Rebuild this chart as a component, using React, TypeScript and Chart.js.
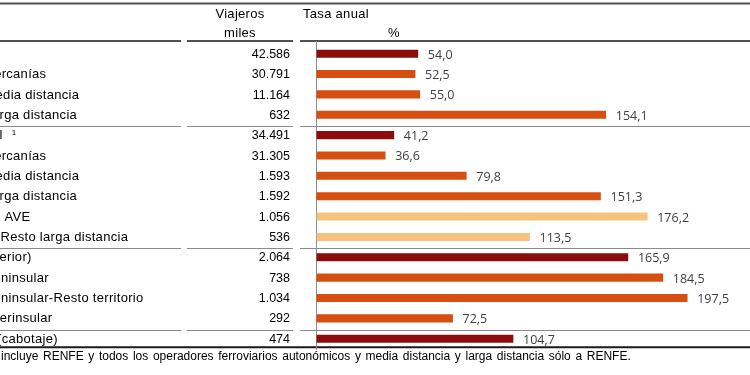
import React, { useEffect, useRef } from "react";
import { Chart, registerables } from "chart.js";

Chart.register(...registerables);

const rowLabels = [
  "Autobús",
  "Cercanías",
  "Media distancia",
  "Larga distancia",
  "Ferrocarril",
  "Cercanías",
  "Media distancia",
  "Larga distancia",
  " AVE",
  "Resto larga distancia",
  "Aéreo (interior)",
  "Peninsular",
  "Peninsular-Resto territorio",
  "Interinsular",
  "Marítimo (cabotaje)",
];
const rowNotes = ["", "", "", "", "1", "", "", "", "", "", "", "", "", "", ""];
const rowLevels = [0, 1, 1, 1, 0, 1, 1, 1, 2, 2, 0, 1, 1, 1, 0];
const travellers = [42586, 30791, 11164, 632, 34491, 31305, 1593, 1592, 1056, 536, 2064, 738, 1034, 292, 474];
const annualRate = [54.0, 52.5, 55.0, 154.1, 41.2, 36.6, 79.8, 151.3, 176.2, 113.5, 165.9, 184.5, 197.5, 72.5, 104.7];
const groupEnds = [3, 9, 13];
const headerTravellers = ["Viajeros", "miles"];
const headerRate = ["Tasa anual", "%"];
const footnote =
  "incluye RENFE y todos los operadores ferroviarios autonómicos y media distancia y larga distancia sólo a RENFE.";

const levelColors = ["#8C0C0C", "#D64F10", "#F6C37F"];

const fmtThousands = (n: number) => String(n).replace(/\B(?=(\d{3})+(?!\d))/g, ".");
const fmtRate = (n: number) => n.toFixed(1).replace(".", ",");

const ARIAL = '"Liberation Sans", Arial, sans-serif';
const LABEL_FONT = `13px ${ARIAL}`;
const LABEL_SPACING = "0.3px";

const segments: [number, number][] = [
  [0, 181],
  [187, 293],
  [300, 750],
];

function hline(ctx: CanvasRenderingContext2D, y: number, x0: number, x1: number, w: number, c: string) {
  ctx.beginPath();
  ctx.strokeStyle = c;
  ctx.lineWidth = w;
  ctx.moveTo(x0, y);
  ctx.lineTo(x1, y);
  ctx.stroke();
}

const tablePlugin = {
  id: "tableFrame",
  beforeDatasetsDraw(chart: any) {
    const ctx: CanvasRenderingContext2D = chart.ctx;
    const ys = chart.scales.y;
    const xs = chart.scales.x;
    ctx.save();
    hline(ctx, 3.5, 0, 750, 2, "#505050");
    segments.forEach(([a, b]) => hline(ctx, 41, a, b, 2, "#505050"));
    const step = ys.getPixelForValue(1) - ys.getPixelForValue(0);
    groupEnds.forEach((g) => {
      const yy = Math.round(ys.getPixelForValue(g) + step / 2 + 1) + 0.5;
      segments.forEach(([a, b]) => hline(ctx, yy, a, b, 1, "#8a8a8a"));
    });
    hline(ctx, 347.3, 0, 750, 2, "#1a1a1a");
    const x0 = xs.getPixelForValue(0);
    ctx.beginPath();
    ctx.strokeStyle = "#8c8c8c";
    ctx.lineWidth = 1;
    ctx.moveTo(x0, 41);
    ctx.lineTo(x0, 350);
    ctx.stroke();
    ctx.restore();
  },
  afterDatasetsDraw(chart: any) {
    const ctx: any = chart.ctx;
    const ys = chart.scales.y;
    const meta = chart.getDatasetMeta(0);
    ctx.save();
    ctx.fillStyle = "#000";
    ctx.font = LABEL_FONT;
    ctx.letterSpacing = LABEL_SPACING;
    ctx.textBaseline = "alphabetic";
    const levelIndent = [
      -0.5 - ctx.measureText("Ferrocarri").width,
      -0.5 - ctx.measureText("La").width,
      0.5,
    ];
    ctx.textAlign = "center";
    ctx.fillText(headerTravellers[0], 240, 17.5);
    ctx.fillText(headerTravellers[1], 240, 37.3);
    ctx.textAlign = "left";
    ctx.fillText(headerRate[0], 303, 17.5);
    ctx.textAlign = "center";
    ctx.fillText(headerRate[1], 394, 37.3);
    rowLabels.forEach((lab, i) => {
      const cy = ys.getPixelForValue(i) - 0.5;
      const base = cy + 4.6;
      ctx.font = LABEL_FONT;
      ctx.letterSpacing = LABEL_SPACING;
      ctx.textAlign = "left";
      const lx = levelIndent[rowLevels[i]];
      ctx.fillText(lab, lx, base);
      if (rowNotes[i]) {
        const w = ctx.measureText(lab).width;
        ctx.font = `8px ${ARIAL}`;
        ctx.letterSpacing = "0px";
        ctx.fillText(rowNotes[i], lx + w + 9, base - 4.5);
      }
      ctx.font = `12.5px ${ARIAL}`;
      ctx.letterSpacing = "0px";
      ctx.textAlign = "right";
      ctx.fillText(fmtThousands(travellers[i]), 290, base);
    });
    ctx.font = '12.5px "Open Sans", sans-serif';
    ctx.letterSpacing = "0px";
    ctx.fillStyle = "#404040";
    ctx.textAlign = "left";
    meta.data.forEach((bar: any, i: number) => {
      ctx.fillText(fmtRate(annualRate[i]), bar.x + 10, bar.y + 5);
    });
    ctx.font = `12px ${ARIAL}`;
    ctx.fillStyle = "#000";
    ctx.wordSpacing = "1.3px";
    ctx.fillText(footnote, 1, 360);
    ctx.restore();
  },
};

export default function App() {
  const ref = useRef<HTMLCanvasElement | null>(null);
  useEffect(() => {
    if (!ref.current) return;
    const chart = new Chart(ref.current, {
      type: "bar",
      data: {
        labels: rowLabels,
        datasets: [
          {
            data: annualRate,
            backgroundColor: rowLevels.map((l) => levelColors[l]),
            barThickness: 7.4,
            borderWidth: 0,
          },
        ],
      },
      options: {
        indexAxis: "y",
        animation: false,
        responsive: true,
        maintainAspectRatio: false,
        layout: { padding: { left: 316.5, right: 1.8, top: 43.5, bottom: 26.1 } },
        plugins: { legend: { display: false }, tooltip: { enabled: false } },
        scales: {
          x: { display: false, min: 0, max: 230 },
          y: { display: false, offset: true },
        },
      },
      plugins: [tablePlugin],
    });
    return () => chart.destroy();
  }, []);
  return (
    <div style={{ position: "absolute", left: 0, top: 0, width: 750, height: 375, background: "#fff" }}>
      <canvas ref={ref} />
    </div>
  );
}
